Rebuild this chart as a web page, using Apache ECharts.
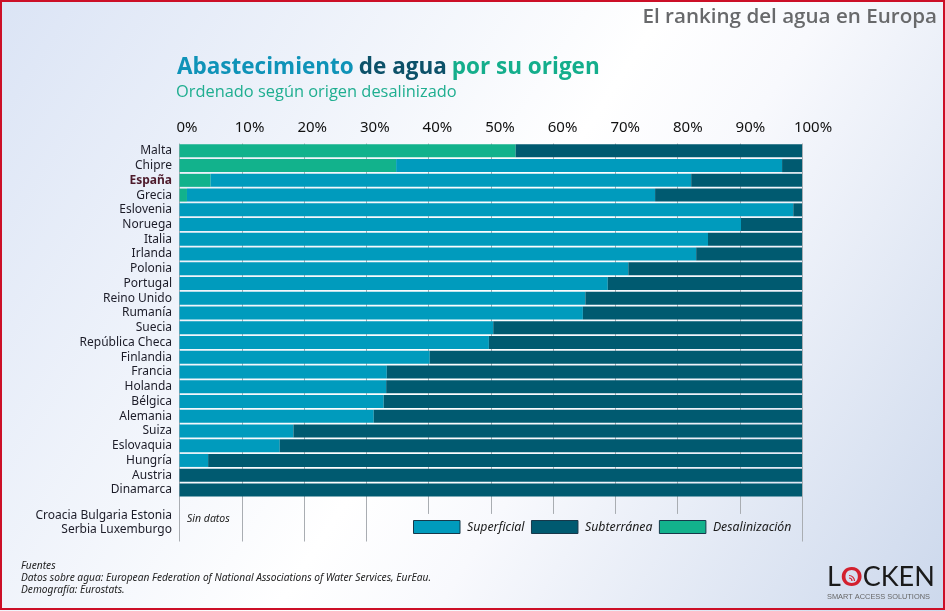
<!DOCTYPE html>
<html>
<head>
<meta charset="utf-8">
<style>
html, body { margin: 0; padding: 0; background: #fff; }
#chart { width: 945px; height: 611px; }
</style>
<script src="https://cdn.jsdelivr.net/npm/echarts@6/dist/echarts.min.js"></script>
</head>
<body>
<div id="chart"></div>
<script>
// datos (% del abastecimiento)
var paises = ['Malta', 'Chipre', 'España', 'Grecia', 'Eslovenia', 'Noruega', 'Italia', 'Irlanda',
    'Polonia', 'Portugal', 'Reino Unido', 'Rumanía', 'Suecia', 'República Checa', 'Finlandia',
    'Francia', 'Holanda', 'Bélgica', 'Alemania', 'Suiza', 'Eslovaquia', 'Hungría', 'Austria', 'Dinamarca'];
var sinDatos = ['Croacia Bulgaria Estonia', 'Serbia Luxemburgo'];
var desalinizacion = [54, 34.8, 5, 1.2, 0, 0, 0, 0, 0, 0, 0, 0, 0, 0, 0, 0, 0, 0, 0, 0, 0, 0, 0, 0];
var superficial = [0, 62, 77.2, 75.2, 98.6, 90.2, 84.9, 83, 72.1, 68.8, 65.2, 64.8, 50.4, 49.7, 40.2,
    33.3, 33.2, 32.8, 31.2, 18.3, 16.1, 4.6, 0, 0];
var subterranea = [46, 3.2, 17.8, 23.6, 1.4, 9.8, 15.1, 17, 27.9, 31.2, 34.8, 35.2, 49.6, 50.3, 59.8,
    66.7, 66.8, 67.2, 68.8, 81.7, 83.9, 95.4, 100, 100];
var lineasLargas = [0, 10, 20, 30, 100];
var lineasCortas = [40, 50, 60, 70, 80, 90];

var FONT = '"Noto Sans"';
var TITLE_FONT = '"Open Sans"';
var AZUL = '#009bbd';
var OSCURO = '#005a70';
var VERDE = '#12b28c';
var filas = 27; // 24 paises + hueco de "sin datos"
var filaCortas = 25.13;

var categorias = paises.concat(['', sinDatos.join('\n'), '']);

function lineas(valores, fin) {
    return valores.map(function(v) {
        return [{ coord: [v, 0] }, { coord: [v, fin] }];
    });
}

function serieBarra(nombre, color, datos) {
    return {
        name: nombre,
        type: 'bar',
        stack: 'origen',
        barWidth: 13,
        z: 3,
        itemStyle: { color: color },
        silent: true,
        data: datos
    };
}

// arcos del logo
function arco(r) {
    return {
        type: 'arc', silent: true,
        shape: { cx: 849, cy: 581, r: r, startAngle: -Math.PI * 0.5, endAngle: 0 },
        style: { fill: 'none', stroke: '#d3202e', lineWidth: 1.2 }
    };
}

var chart = echarts.init(document.getElementById('chart'), null, { renderer: 'canvas' });

var option = {
    animation: false,
    backgroundColor: {
        type: 'linear', x: 0, y: 0, x2: 1, y2: 1,
        colorStops: [
            { offset: 0, color: '#dbe4f5' },
            { offset: 0.5, color: '#ffffff' },
            { offset: 0.62, color: '#f8f9fd' },
            { offset: 1, color: '#ccd8ec' }
        ]
    },
    title: [
        {
            text: '{a|Abastecimiento} {b|de agua} {c|por su origen}',
            left: 177, top: 56, padding: 0,
            textStyle: {
                rich: {
                    a: { fontFamily: TITLE_FONT, fontWeight: 'bold', fontSize: 22.5, color: '#0f93b8' },
                    b: { fontFamily: TITLE_FONT, fontWeight: 'bold', fontSize: 22.5, color: '#0c5169' },
                    c: { fontFamily: TITLE_FONT, fontWeight: 'bold', fontSize: 22.5, color: '#14ae8c' }
                }
            }
        },
        {
            text: 'Ordenado según origen desalinizado',
            left: 176, top: 84, padding: 0,
            textStyle: { fontFamily: TITLE_FONT, fontWeight: 'normal', fontSize: 16.4, color: '#1fae90' }
        },
        {
            text: 'El ranking del agua en Europa',
            right: 8, top: 7, padding: 0,
            textStyle: { fontFamily: TITLE_FONT, fontWeight: 600, fontSize: 20.6, color: '#68696b' }
        }
    ],
    legend: {
        left: 413, top: 520, padding: 0,
        orient: 'horizontal',
        itemWidth: 46.5, itemHeight: 13, itemGap: 6.5,
        icon: 'rect',
        selectedMode: false,
        data: [
            { name: 'Superficial', itemStyle: { borderColor: '#17384a', borderWidth: 1 } },
            { name: 'Subterránea', itemStyle: { borderColor: '#17384a', borderWidth: 1 } },
            { name: 'Desalinización', itemStyle: { borderColor: '#17384a', borderWidth: 1 } }
        ],
        textStyle: { fontFamily: FONT, fontStyle: 'italic', fontSize: 12.3, color: '#1a1a1a', padding: [0, 0, 0, 2] }
    },
    grid: [
        { left: 179.5, top: 143.5, width: 622.5, height: 398 },
        { left: 187, top: 143.5, width: 626, height: 1 } // solo rotulos de porcentaje
    ],
    xAxis: [
        {
            type: 'value', gridIndex: 0, position: 'top', min: 0, max: 100, interval: 10,
            axisLine: { show: false }, axisTick: { show: false },
            axisLabel: { show: false }, splitLine: { show: false }
        },
        {
            type: 'value', gridIndex: 1, position: 'top', min: 0, max: 100, interval: 10,
            axisLine: { show: false }, axisTick: { show: false }, splitLine: { show: false },
            axisLabel: {
                show: true, margin: 8, formatter: '{value}%',
                fontFamily: FONT, fontSize: 15, color: '#111'
            }
        }
    ],
    yAxis: [
        {
            type: 'category', gridIndex: 0, inverse: true, data: categorias,
            axisLine: { show: false }, axisTick: { show: false },
            axisLabel: {
                interval: 0, margin: 7.5, fontFamily: FONT, fontSize: 12, color: '#1c1c28',
                formatter: function(v) {
                    if (v === 'España') {
                        return '{esp|' + v + '}';
                    }
                    if (v.indexOf('\n') > 0) {
                        return v.split('\n').map(function(l) { return '{nd|' + l + '}'; }).join('\n');
                    }
                    return v;
                },
                rich: {
                    esp: { fontFamily: FONT, fontSize: 12, fontWeight: 'bold', color: '#4d1a2b' },
                    nd: { fontFamily: FONT, fontSize: 12, lineHeight: 14, color: '#1c1c28', padding: [6, 0, 0, 0] }
                }
            }
        },
        { type: 'value', gridIndex: 0, inverse: true, min: 0, max: filas, show: false },
        { type: 'value', gridIndex: 1, show: false }
    ],
    series: [
        serieBarra('Desalinización', VERDE, desalinizacion),
        serieBarra('Superficial', AZUL, superficial),
        serieBarra('Subterránea', OSCURO, subterranea),
        {
            // lineas de division: las de 40-90% se cortan sobre la leyenda
            type: 'line', xAxisIndex: 0, yAxisIndex: 1, data: [], silent: true, z: 1,
            markLine: {
                silent: true, z: 1, symbol: 'none', animation: false,
                label: { show: false },
                lineStyle: { type: 'solid', color: '#a9adb2', width: 1 },
                data: lineas(lineasLargas, filas).concat(lineas(lineasCortas, filaCortas))
            }
        }
    ],
    graphic: [
        { type: 'text', left: 187, top: 514, style: { text: 'Sin datos', fontFamily: FONT, fontStyle: 'italic', fontSize: 10.5, fill: '#222' } },
        { type: 'text', left: 21, top: 561, style: { text: 'Fuentes', fontFamily: FONT, fontStyle: 'italic', fontSize: 10.2, fill: '#222' } },
        { type: 'text', left: 21, top: 573, style: { text: 'Datos sobre agua: European Federation of National Associations of Water Services, EurEau.', fontFamily: FONT, fontStyle: 'italic', fontSize: 10.2, fill: '#222' } },
        { type: 'text', left: 21, top: 585, style: { text: 'Demografía: Eurostats.', fontFamily: FONT, fontStyle: 'italic', fontSize: 10.2, fill: '#222' } },
        {
            type: 'text', left: 827, top: 564,
            style: {
                text: '{l|L}{o|O}{l|CKEN}',
                rich: {
                    l: { fontFamily: 'Lato', fontSize: 27, fill: '#1a1a1a' },
                    o: { fontFamily: 'Lato', fontSize: 27, fontWeight: 'bold', fill: '#d3202e' }
                }
            }
        },
        { type: 'text', left: 827, top: 593, style: { text: 'SMART ACCESS SOLUTIONS', fontFamily: '"Liberation Sans"', fontSize: 7.4, fill: '#666' } },
        arco(3), arco(5.5),
        {
            type: 'rect', z: 100, silent: true,
            shape: { x: 1, y: 1, width: 943, height: 608 },
            style: { fill: 'none', stroke: '#cc0f27', lineWidth: 2 }
        }
    ]
};

chart.setOption(option);
</script>
</body>
</html>
